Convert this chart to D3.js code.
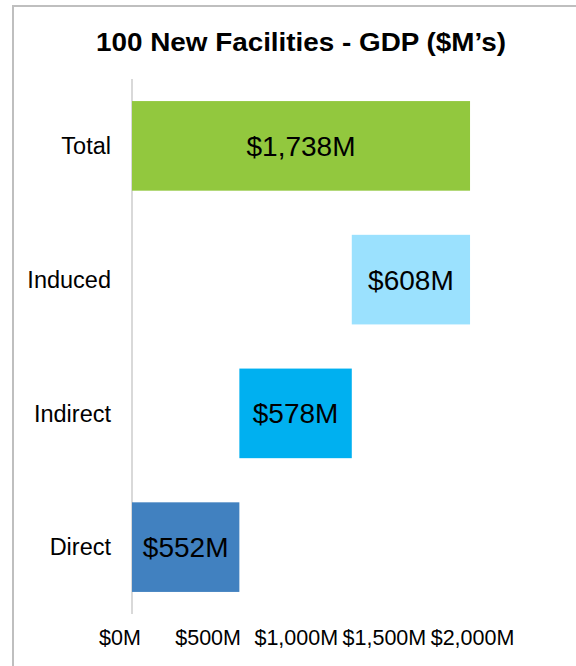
<!DOCTYPE html>
<html>
<head>
<meta charset="utf-8">
<script src="https://cdn.jsdelivr.net/npm/d3@7"></script>
<style>
  html, body { margin: 0; padding: 0; background: #fff; }
  svg { display: block; font-family: "Liberation Sans", Arial, sans-serif; }
</style>
</head>
<body>
<svg id="chart" width="576" height="666"></svg>
<script>
// GDP contribution of 100 new facilities, $M (waterfall: Direct → Indirect → Induced → Total)
const categories = ["Total", "Induced", "Indirect", "Direct"];
const values = [1738, 608, 578, 552];
const barStarts = [0, 1130, 552, 0];   // where each floating bar begins
const barColors = ["#92c83e", "#9be1fe", "#00b0f0", "#4181c0"];
const tickValues = [0, 500, 1000, 1500, 2000];
const tickLabels = ["$0M", "$500M", "$1,000M", "$1,500M", "$2,000M"];

const svg = d3.select("#chart");

// Chart frame
svg.append("rect")
  .attr("x", 13).attr("y", 6)
  .attr("width", 600).attr("height", 700)
  .attr("fill", "none")
  .attr("stroke", "#bfbfbf")
  .attr("stroke-width", 2);

// Title
svg.append("text")
  .attr("x", 301).attr("y", 51)
  .attr("text-anchor", "middle")
  .attr("font-size", 26.5)
  .attr("font-weight", "bold")
  .attr("fill", "#000")
  .attr("textLength", 410)
  .attr("lengthAdjust", "spacingAndGlyphs")
  .text("100 New Facilities - GDP ($M\u2019s)");

const x = d3.scaleLinear().domain([0, 2000]).range([132, 521]);
const y = d3.scaleBand().domain(categories).range([79, 614])
  .paddingInner(0.33).paddingOuter(0.165);

// Value axis labels sit on their own evenly spaced positions
const xLabel = d3.scaleLinear().domain([0, 2000]).range([119.5, 472]);
const xAxis = d3.axisBottom(xLabel)
  .tickValues(tickValues)
  .tickFormat((d, i) => tickLabels[i])
  .tickSize(0).tickPadding(0);
const gx = svg.append("g").attr("transform", "translate(0,645)").call(xAxis);
gx.select(".domain").remove();
gx.selectAll("text")
  .attr("font-size", 21.5)
  .attr("font-family", "Liberation Sans, Arial, sans-serif")
  .attr("fill", "#000")
  .attr("dy", "0");

// Category axis
svg.append("line")
  .attr("x1", x(0)).attr("x2", x(0))
  .attr("y1", 79).attr("y2", 614)
  .attr("stroke", "#d9d9d9")
  .attr("stroke-width", 2);

const yAxis = d3.axisLeft(y).tickSize(0).tickPadding(0);
const gy = svg.append("g").attr("transform", "translate(111,0)").call(yAxis);
gy.select(".domain").remove();
gy.selectAll("text")
  .attr("font-size", 23.5)
  .attr("font-family", "Liberation Sans, Arial, sans-serif")
  .attr("fill", "#000")
  .attr("dy", "0.35em");

// Bars
const rows = categories.map((c, i) => ({ c, v: values[i], s: barStarts[i], col: barColors[i] }));
svg.append("g").selectAll("rect").data(rows).join("rect")
  .attr("x", d => x(d.s))
  .attr("y", d => y(d.c))
  .attr("width", d => x(d.s + d.v) - x(d.s))
  .attr("height", y.bandwidth())
  .attr("fill", d => d.col);

// Bar value labels
svg.append("g").selectAll("text").data(rows).join("text")
  .attr("x", d => (x(d.s) + x(d.s + d.v)) / 2)
  .attr("y", d => y(d.c) + y.bandwidth() / 2)
  .attr("dy", "0.36em")
  .attr("text-anchor", "middle")
  .attr("font-size", 28)
  .attr("fill", "#000")
  .text(d => "$" + d3.format(",")(d.v) + "M");
</script>
</body>
</html>
